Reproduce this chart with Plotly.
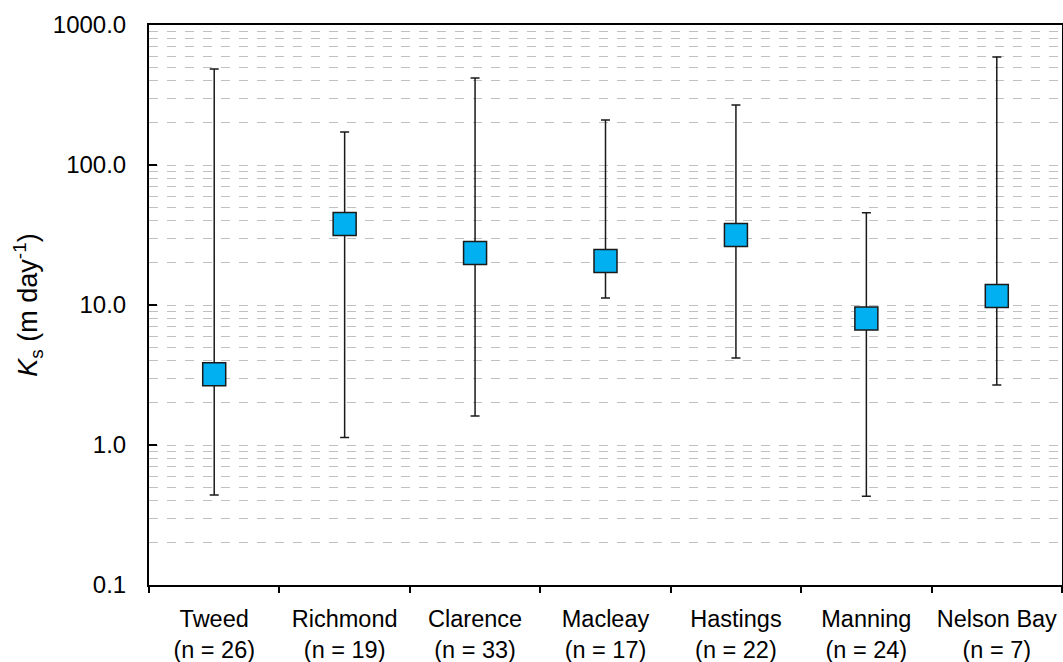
import plotly.graph_objects as go

sites = ["Tweed", "Richmond", "Clarence", "Macleay", "Hastings", "Manning", "Nelson Bay"]
n_counts = [26, 19, 33, 17, 22, 24, 7]
ks_mid = [3.2, 37.9, 23.5, 20.6, 31.6, 8.0, 11.6]
ks_max = [485, 172, 418, 210, 268, 45.6, 590]
ks_min = [0.44, 1.13, 1.61, 11.2, 4.18, 0.43, 2.68]

y_tickvals = [0.1, 1, 10, 100, 1000]
y_ticktext = ["0.1", "1.0", "10.0", "100.0", "1000.0"]

x_labels = [f"{s}<br>(n = {n})" for s, n in zip(sites, n_counts)]
err_plus = [hi - m for hi, m in zip(ks_max, ks_mid)]
err_minus = [m - lo for lo, m in zip(ks_min, ks_mid)]

fig = go.Figure()
fig.add_trace(go.Scatter(
    x=x_labels, y=ks_mid, mode="markers",
    marker=dict(symbol="square", size=23, color="#00B0F0",
                line=dict(color="#1a1a1a", width=1.5)),
    error_y=dict(type="data", symmetric=False, array=err_plus, arrayminus=err_minus,
                 color="#1a1a1a", thickness=1.5, width=4.5),
    showlegend=False,
))

font_family = "Liberation Sans, Arial, sans-serif"
fig.update_layout(
    width=1063, height=662,
    margin=dict(l=149, r=1, t=25, b=77),
    plot_bgcolor="white", paper_bgcolor="white",
    font=dict(family=font_family, color="black"),
    xaxis=dict(
        type="category", showline=True, linecolor="black", linewidth=2, mirror=True,
        ticks="outside", tickson="boundaries", ticklen=6, tickcolor="black", tickwidth=1.5,
        tickfont=dict(size=23.5), tickangle=0, showgrid=False, range=[-0.5, 6.5],
        automargin=False, ticklabelstandoff=12,
    ),
    yaxis=dict(
        type="log", range=[-1, 3], showline=True, linecolor="black", linewidth=2, mirror=True,
        tickvals=y_tickvals, ticktext=y_ticktext, ticks="inside", ticklen=8,
        tickcolor="black", tickwidth=1.5, tickfont=dict(size=24), ticklabelstandoff=16,
        showgrid=True, gridcolor="#c0c0c0", griddash="dash", gridwidth=1,
        minor=dict(showgrid=True, gridcolor="#c0c0c0", griddash="dash", gridwidth=1,
                   tickvals=[k * 10.0 ** e for e in range(-1, 3) for k in range(2, 10)],
                   ticks=""),
        title=dict(text="<i>K</i><sub>s</sub> (m day<sup>-1</sup>)", font=dict(size=27), standoff=7),
        zeroline=False, automargin=False,
    ),
)

fig.write_html("out.html", config={"displayModeBar": False},
               post_script="document.body.style.margin='0';document.body.style.overflow='hidden';")
